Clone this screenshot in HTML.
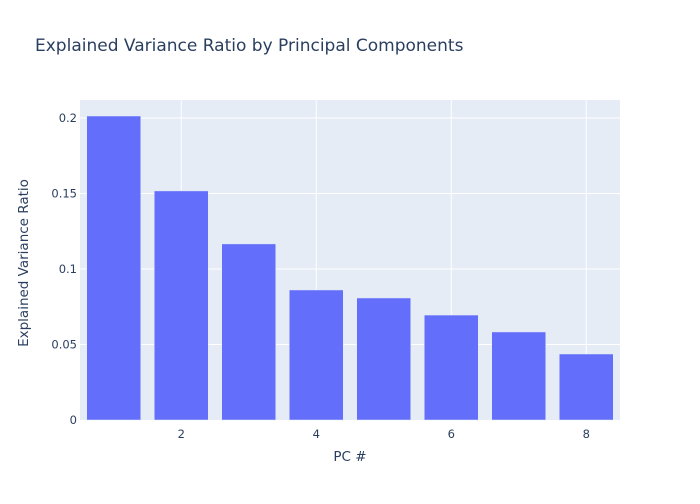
<!DOCTYPE html>
<html><head><meta charset="utf-8"><style>
body{margin:0;background:#fff;font-family:"DejaVu Sans",sans-serif}
</style></head><body>
<svg width="700" height="500" xmlns="http://www.w3.org/2000/svg" font-family="DejaVu Sans, sans-serif">
<rect width="700" height="500" fill="#fff"/>
<rect x="80" y="100" width="540" height="320" fill="#e5ecf6"/>
<g id="grid"></g><g id="bars"></g><g id="ticks"></g>
<text x="35" y="51" font-size="17" fill="#2a3f5f">Explained Variance Ratio by Principal Components</text>
<text x="350" y="461" font-size="13.5" fill="#2a3f5f" text-anchor="middle">PC #</text>
<text transform="translate(28,263) rotate(-90)" font-size="13.5" fill="#2a3f5f" text-anchor="middle">Explained Variance Ratio</text>
</svg>
<script>
const categories=[1,2,3,4,5,6,7,8];
const values=[0.2013,0.1517,0.1166,0.0861,0.0808,0.0695,0.0583,0.0437];
const yTicks=[0,0.05,0.1,0.15,0.2];
const yTickLabels=["0","0.05","0.1","0.15","0.2"];
const xTicks=[2,4,6,8];
const ns="http://www.w3.org/2000/svg";
const X0=80,W=540,Y0=420,H=320,yMax=0.2119;
const xs=v=>X0+(v-0.5)/8*W;
const ys=v=>Y0-v/yMax*H;
const bw=W/8*0.8;
function mk(t,a,p){const e=document.createElementNS(ns,t);for(const k in a)e.setAttribute(k,a[k]);p.appendChild(e);return e;}
const g=document.getElementById('grid'),b=document.getElementById('bars'),tk=document.getElementById('ticks');
yTicks.forEach((v,i)=>{
 if(v>0){const l=mk('line',{x1:X0,x2:X0+W,y1:ys(v),y2:ys(v),stroke:'#fff','stroke-width':1},g);
 
 }
 const t=mk('text',{x:X0-3,y:ys(v)+4,'font-size':11.5,fill:'#2a3f5f','text-anchor':'end'},tk);t.textContent=yTickLabels[i];
 
 
});
xTicks.forEach(v=>{
 const l=mk('line',{x1:xs(v),x2:xs(v),y1:Y0-H,y2:Y0,stroke:'#fff','stroke-width':1},g);
 
 
 const t=mk('text',{x:xs(v),y:Y0+18,'font-size':11.5,fill:'#2a3f5f','text-anchor':'middle'},tk);t.textContent=v;
 
 
});
categories.forEach((c,i)=>{
 const r=mk('rect',{x:xs(c)-bw/2,y:ys(values[i]),width:bw,height:Y0-ys(values[i]),fill:'#636efa',stroke:'#e5ecf6','stroke-width':0.5},b);
 
 
});
</script>
</body></html>
